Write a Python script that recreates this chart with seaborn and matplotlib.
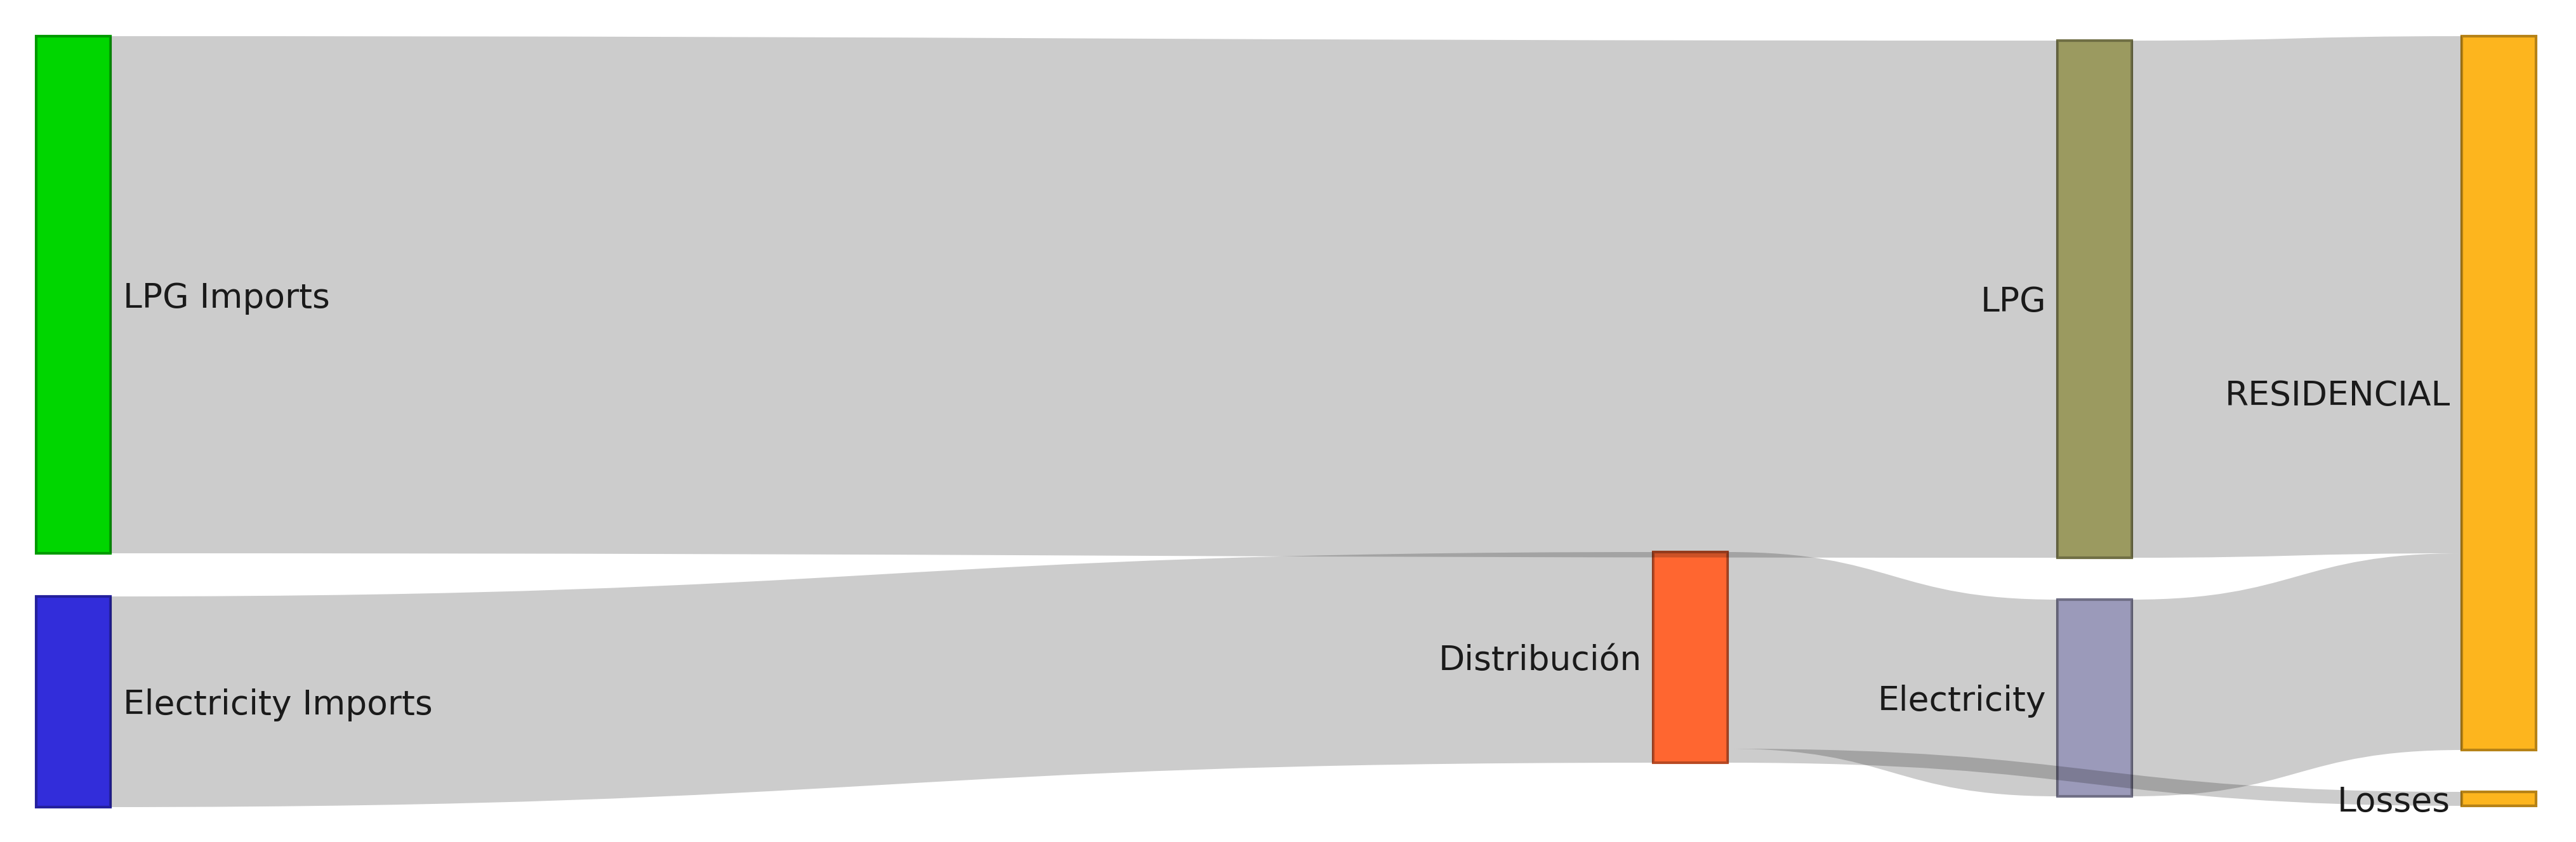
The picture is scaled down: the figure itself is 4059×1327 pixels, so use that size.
import numpy as np
import matplotlib
matplotlib.use("Agg")
import matplotlib.pyplot as plt
import matplotlib.colors as mcolors
import seaborn as sns
from matplotlib.path import Path
from matplotlib.patches import PathPatch, Rectangle

# Data
nodes = ["LPG Imports", "Electricity Imports", "Distribución", "LPG",
         "Electricity", "RESIDENCIAL", "Losses"]
node_colors = ["#00d600", "#322dda", "#ff6630", "#9b9a60",
               "#9b9aba", "#fdb51e", "#fdb51e"]

sources = [0, 1, 2, 2, 3, 4]
targets = [3, 2, 4, 6, 5, 5]
values = [81.5, 33.2, 31.0, 2.2, 81.5, 31.0]

# Layout (pixels on a 4059x1327 canvas)
node_col = [0, 0, 4, 5, 5, 6, 6]
node_top = [57, 940, 870, 64, 945, 57, 1248]
col_step = 637.0
x_start = 57
node_w = 117
px_per_unit = 10.0

sns.set_theme(style="white")
plt.rcParams["font.family"] = ["DejaVu Sans"]

fig = plt.figure(figsize=(40.59, 13.27), dpi=100)
ax = fig.add_axes([0, 0, 1, 1])
ax.set_xlim(0, 4059)
ax.set_ylim(1327, 0)
ax.set_axis_off()

n = len(nodes)
inflow = np.zeros(n)
outflow = np.zeros(n)
for s, t, v in zip(sources, targets, values):
    outflow[s] += v
    inflow[t] += v
node_h = np.maximum(inflow, outflow) * px_per_unit
node_x = [x_start + c * col_step for c in node_col]


def darker(c, f=0.72):
    r, g, b = mcolors.to_rgb(c)
    return (r * f, g * f, b * f)


# nodes
for i in range(n):
    ax.add_patch(Rectangle((node_x[i], node_top[i]), node_w, node_h[i],
                           facecolor=node_colors[i], edgecolor=darker(node_colors[i]),
                           linewidth=3, zorder=1))

# links (bezier ribbons, curvature 0.5)
out_off = np.zeros(n)
in_off = np.zeros(n)
for s, t, v in zip(sources, targets, values):
    h = v * px_per_unit
    x0 = node_x[s] + node_w
    x1 = node_x[t]
    y0a = node_top[s] + out_off[s]
    y1a = node_top[t] + in_off[t]
    out_off[s] += h
    in_off[t] += h
    y0b, y1b = y0a + h, y1a + h
    xm = (x0 + x1) / 2
    verts = [(x0, y0a), (xm, y0a), (xm, y1a), (x1, y1a),
             (x1, y1b), (xm, y1b), (xm, y0b), (x0, y0b), (x0, y0a)]
    codes = [Path.MOVETO, Path.CURVE4, Path.CURVE4, Path.CURVE4,
             Path.LINETO, Path.CURVE4, Path.CURVE4, Path.CURVE4, Path.CLOSEPOLY]
    ax.add_patch(PathPatch(Path(verts, codes), facecolor=(0, 0, 0, 0.2),
                           edgecolor="none", zorder=2))

# labels
for i in range(n):
    yc = node_top[i] + node_h[i] / 2 + 5
    if node_col[i] == 0:
        ax.text(node_x[i] + node_w + 20, yc, nodes[i], ha="left", va="center",
                fontsize=38.5, color="#1a1a1a", zorder=3)
    else:
        ax.text(node_x[i] - 18, yc, nodes[i], ha="right", va="center",
                fontsize=38.5, color="#1a1a1a", zorder=3)

fig.savefig("out.png", dpi=100, facecolor="white")
